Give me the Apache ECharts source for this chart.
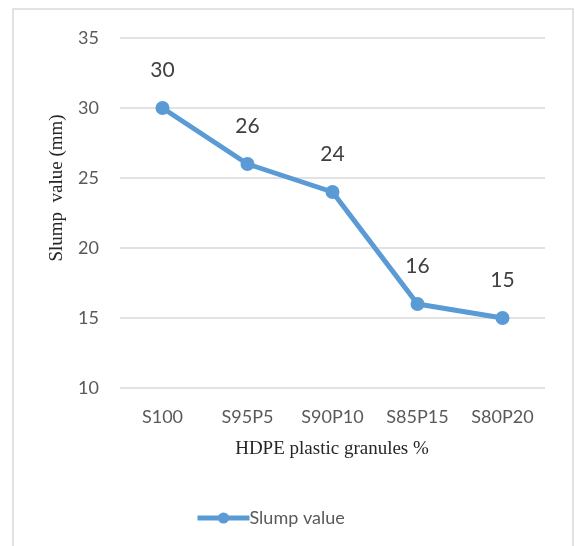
<!DOCTYPE html>
<html>
<head>
<meta charset="utf-8">
<script src="https://cdn.jsdelivr.net/npm/echarts@6/dist/echarts.min.js"></script>
<style>
  html, body { margin: 0; padding: 0; background: #ffffff; }
  #chart { width: 575px; height: 546px; }
</style>
</head>
<body>
<div id="chart"></div>
<script>
// Slump test results for sand replaced by HDPE plastic granules
const categories = ['S100', 'S95P5', 'S90P10', 'S85P15', 'S80P20'];
const slumpValues = [30, 26, 24, 16, 15];
const seriesName = 'Slump value';
const xTitle = 'HDPE plastic granules %';
const yTitle = 'Slump  value (mm)';

const chart = echarts.init(document.getElementById('chart'), null, { renderer: 'canvas' });

const tickFont = { fontFamily: 'Lato, "Open Sans", sans-serif', fontSize: 18, color: '#595959' };

chart.setOption({
  backgroundColor: '#ffffff',
  animation: false,
  grid: { left: 120, right: 30, top: 38, bottom: 158 },
  xAxis: {
    type: 'category',
    data: categories,
    boundaryGap: true,
    axisLine: { show: false },
    axisTick: { show: false },
    axisLabel: Object.assign({ margin: 20 }, tickFont)
  },
  yAxis: {
    type: 'value',
    min: 10,
    max: 35,
    interval: 5,
    axisLine: { show: false },
    axisTick: { show: false },
    axisLabel: Object.assign({ margin: 21 }, tickFont),
    splitLine: { lineStyle: { color: '#d9d9d9', width: 1.5 } }
  },
  legend: {
    data: [seriesName],
    left: 190,
    top: 504,
    itemWidth: 52,
    itemHeight: 14,
    itemGap: 10,
    lineStyle: { width: 5 },
    textStyle: { fontFamily: 'Lato, "Open Sans", sans-serif', fontSize: 18, color: '#595959', padding: [0, 0, 0, -5] }
  },
  series: [{
    name: seriesName,
    type: 'line',
    data: slumpValues,
    symbol: 'circle',
    symbolSize: 14,
    itemStyle: { color: '#5b9bd5' },
    lineStyle: { color: '#5b9bd5', width: 5 },
    label: {
      show: true,
      position: 'top',
      distance: 20,
      fontFamily: 'Lato, "Open Sans", sans-serif',
      fontSize: 21,
      color: '#404040'
    }
  }],
  graphic: [
    {
      type: 'rect',
      shape: { x: 13, y: 9, width: 560, height: 560 },
      style: { fill: 'none', stroke: '#d9d9d9', lineWidth: 1.5 },
      silent: true
    },
    {
      type: 'text',
      x: 332,
      y: 449,
      style: {
        text: xTitle,
        font: '19px "Liberation Serif", "Times New Roman", serif',
        fill: '#262626',
        textAlign: 'center',
        textVerticalAlign: 'middle'
      }
    },
    {
      type: 'text',
      x: 57,
      y: 188,
      rotation: Math.PI / 2,
      style: {
        text: yTitle,
        font: '19px "Liberation Serif", "Times New Roman", serif',
        fill: '#262626',
        textAlign: 'center',
        textVerticalAlign: 'middle'
      }
    }
  ]
});
</script>
</body>
</html>
